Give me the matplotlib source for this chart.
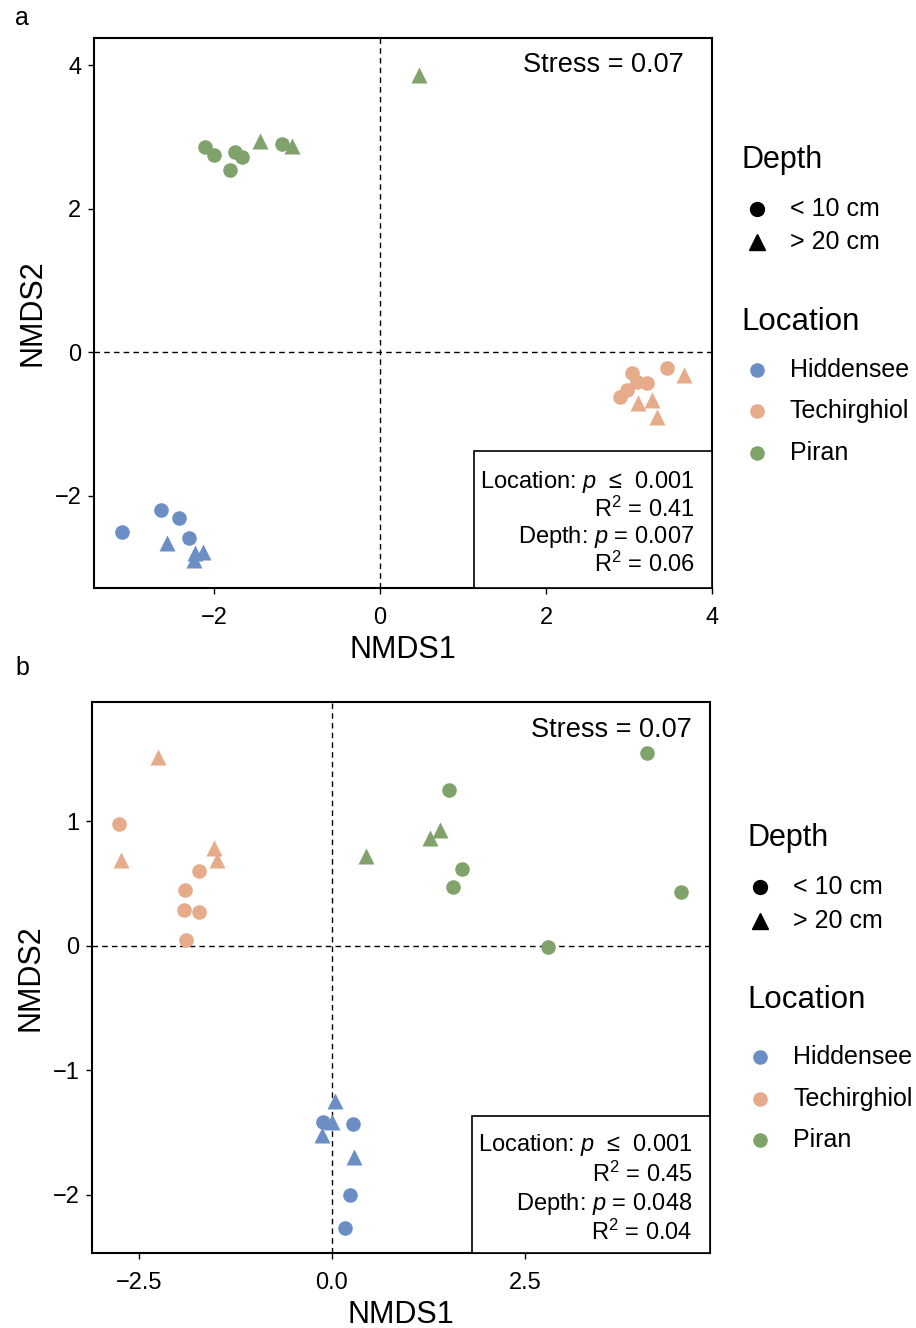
# nmds.py
# two NMDS ordination panels, coloured by location, shaped by depth

import numpy as np
import matplotlib
matplotlib.use("Agg")
import matplotlib.pyplot as plt
from matplotlib.lines import Line2D
from matplotlib.patches import Rectangle

plt.rcParams['font.family'] = ['Liberation Sans', 'DejaVu Sans']
plt.rcParams['mathtext.fontset'] = 'custom'
plt.rcParams['mathtext.rm'] = 'Liberation Sans'
plt.rcParams['mathtext.it'] = 'Liberation Sans:italic'

W, H = 916, 1328

locations = ["Hiddensee", "Techirghiol", "Piran"]
colors = {"Hiddensee": "#6b8fc4", "Techirghiol": "#e5ab8a", "Piran": "#7fa36b"}
depths = ["< 10 cm", "> 20 cm"]

# panel a: (x, y) per location, circles = < 10 cm, triangles = > 20 cm
a_circ = {
    "Hiddensee": ([-3.11, -2.64, -2.42, -2.31], [-2.51, -2.20, -2.31, -2.59]),
    "Techirghiol": ([3.04, 2.98, 3.10, 3.22, 2.89, 3.46], [-0.29, -0.53, -0.42, -0.43, -0.63, -0.22]),
    "Piran": ([-2.11, -2.00, -1.75, -1.66, -1.81, -1.18], [2.86, 2.75, 2.79, 2.72, 2.54, 2.90]),
}
a_tri = {
    "Hiddensee": ([-2.57, -2.23, -2.13, -2.25], [-2.66, -2.80, -2.79, -2.90]),
    "Techirghiol": ([3.66, 3.11, 3.28, 3.34], [-0.32, -0.71, -0.67, -0.91]),
    "Piran": ([-1.45, -1.06, 0.47], [2.95, 2.88, 3.86]),
}

# panel b
b_circ = {
    "Hiddensee": ([-0.11, 0.27, 0.24, 0.17], [-1.42, -1.43, -2.00, -2.27]),
    "Techirghiol": ([-2.76, -1.72, -1.90, -1.92, -1.72, -1.89], [0.98, 0.60, 0.45, 0.29, 0.27, 0.05]),
    "Piran": ([1.52, 1.68, 1.57, 4.08, 4.53, 2.80], [1.25, 0.62, 0.47, 1.55, 0.43, -0.01]),
}
b_tri = {
    "Hiddensee": ([0.04, 0.00, -0.13, 0.29], [-1.25, -1.42, -1.52, -1.70]),
    "Techirghiol": ([-2.25, -2.73, -1.53, -1.49], [1.52, 0.69, 0.79, 0.69]),
    "Piran": ([1.40, 1.27, 0.44], [0.93, 0.87, 0.72]),
}

stress = [0.07, 0.07]
stats_a = ["Location: $p$  \u2264  0.001", "R$^2$ = 0.41", "Depth: $p$ = 0.007", "R$^2$ = 0.06"]
stats_b = ["Location: $p$  \u2264  0.001", "R$^2$ = 0.45", "Depth: $p$ = 0.048", "R$^2$ = 0.04"]

fig = plt.figure(figsize=(W / 100, H / 100), dpi=100)
ax_a = fig.add_axes([0.1026, 0.5572, 0.6747, 0.4142])
ax_b = fig.add_axes([0.1004, 0.0565, 0.6747, 0.4149])


def draw_panel(ax, circ, tri, stats, st, stat_y, text_x):
    ax.axhline(0, color='black', ls=(0, (4, 3)), lw=1, zorder=1)
    ax.axvline(0, color='black', ls=(0, (4, 3)), lw=1, zorder=1)
    for loc in locations:
        ax.plot(circ[loc][0], circ[loc][1], 'o', ms=10.5, color=colors[loc], mec='none', zorder=2)
        ax.plot(tri[loc][0], tri[loc][1], '^', ms=11.5, color=colors[loc], mec='none', zorder=2)
    ax.text(text_x, 0.95, f"Stress = {st:.2f}", transform=ax.transAxes, ha='right', va='center', fontsize=19.5)
    ax.add_patch(Rectangle((0.615, 0), 0.385, 0.249, transform=ax.transAxes,
                           facecolor='white', edgecolor='black', lw=1.2, zorder=3))
    for s, y in zip(stats, stat_y):
        ax.text(0.972, y - 0.004, s, transform=ax.transAxes, ha='right', va='center', fontsize=17, zorder=4)
    for sp in ax.spines.values():
        sp.set_linewidth(1.5)
    ax.tick_params(direction='out', length=4, width=1, labelsize=17)
    ax.tick_params(axis='x', pad=10)
    ax.tick_params(axis='y', pad=5)
    ax.set_xlabel("NMDS1", fontsize=22, labelpad=4)
    ax.set_ylabel("NMDS2", fontsize=22, labelpad=5)


draw_panel(ax_a, a_circ, a_tri, stats_a, stress[0], [0.196, 0.147, 0.096, 0.047], 0.955)
ax_a.set_xlim(-3.45, 4.0)
ax_a.set_ylim(-3.29, 4.38)
ax_a.set_xticks([-2, 0, 2, 4])
ax_a.set_yticks([-2, 0, 2, 4])

draw_panel(ax_b, b_circ, b_tri, stats_b, stress[1], [0.200, 0.147, 0.093, 0.042], 0.97)
ax_b.set_xlim(-3.11, 4.90)
ax_b.set_ylim(-2.47, 1.96)
ax_b.set_xticks([-2.5, 0.0, 2.5])
ax_b.set_xticklabels(["\u22122.5", "0.0", "2.5"])
ax_b.set_yticks([-2, -1, 0, 1])

fig.text(15 / W, 1 - 18 / H, "a", fontsize=18, va='center')
fig.text(15 / W, 1 - 668 / H, "b", fontsize=18, va='center')


# legends drawn by hand, positions in pixels of the figure
def add_legend(title_x, mark_x, text_x, depth_y, depth_items, loc_y, loc_items):
    fig.text(title_x / W, 1 - depth_y / H, "Depth", fontsize=22, va='center')
    for (m, ms), lab, y in zip([('o', 10), ('^', 11.5)], depths, depth_items):
        fig.add_artist(Line2D([mark_x / W], [1 - y / H], marker=m, ms=ms, color='black', ls=''))
        fig.text(text_x / W, 1 - y / H, lab, fontsize=18, va='center')
    fig.text(title_x / W, 1 - loc_y / H, "Location", fontsize=22.5, va='center')
    for loc, y in zip(locations, loc_items):
        fig.add_artist(Line2D([mark_x / W], [1 - y / H], marker='o', ms=10.5, color=colors[loc],
                              mec='none', ls=''))
        fig.text(text_x / W, 1 - y / H, loc, fontsize=18, va='center')


add_legend(741, 757, 790, 160, [209, 242], 322, [370, 411, 453])
add_legend(747, 760, 793, 838, [887, 921], 1000, [1057, 1099, 1140])

fig.savefig("out.png", dpi=100)
